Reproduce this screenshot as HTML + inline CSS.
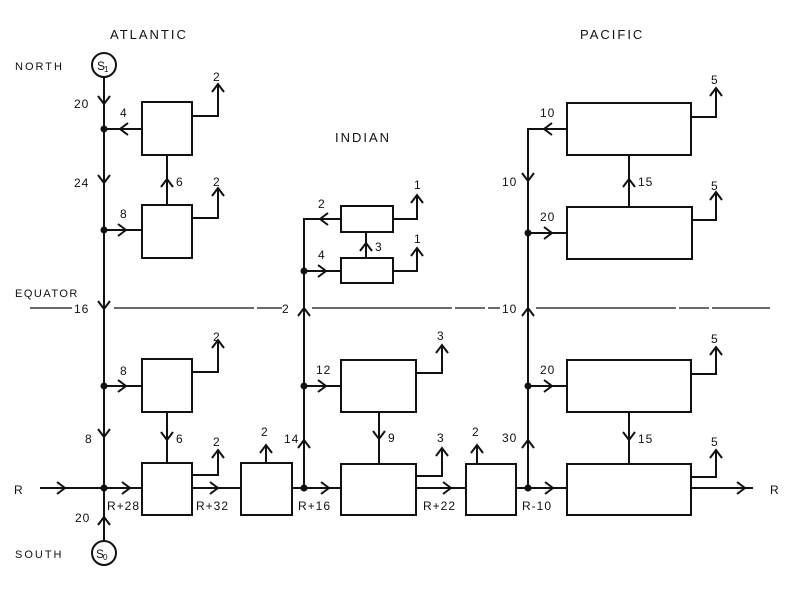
<!DOCTYPE html>
<html><head><style>
html,body{margin:0;padding:0;background:#fff;}
svg{display:block}
text{font-family:"Liberation Sans",sans-serif;font-size:12px;fill:#111;letter-spacing:1px}
</style></head><body>
<svg width="800" height="594" viewBox="0 0 800 594" xmlns="http://www.w3.org/2000/svg">
<g stroke="#111" stroke-width="2" fill="none">
<rect x="142" y="102" width="50" height="53"/>
<rect x="142" y="205" width="50" height="53"/>
<rect x="142" y="359" width="50" height="53"/>
<rect x="142" y="463" width="50" height="52"/>
<rect x="241" y="463" width="51" height="52"/>
<rect x="341" y="206" width="52" height="26"/>
<rect x="341" y="258" width="52" height="25"/>
<rect x="341" y="360" width="75" height="52"/>
<rect x="341" y="464" width="75" height="51"/>
<rect x="466" y="464" width="50" height="51"/>
<rect x="567" y="103" width="124" height="52"/>
<rect x="567" y="207" width="125" height="52"/>
<rect x="567" y="360" width="124" height="52"/>
<rect x="567" y="464" width="124" height="51"/>
<circle cx="104" cy="65" r="12"/>
<circle cx="104" cy="553" r="12"/>
<path d="M104 77 V541"/>
<path d="M304 488 V219 H341"/>
<path d="M528 488 V129 H567"/>
<path d="M104 129 H142 M104 230 H142 M104 386 H142"/>
<path d="M304 271 H341 M304 386 H341"/>
<path d="M528 233 H567 M528 386 H567"/>
<path d="M40 488 H142 M192 488 H241 M292 488 H341 M416 488 H466 M516 488 H567 M691 488 H753"/>
<path d="M167 205 V155 M167 412 V463 M366 258 V232 M379 412 V464 M629 207 V155 M629 412 V464"/>
<path d="M192 116 H218 V84 M192 218 H218 V188 M192 372 H218 V340 M192 475 H218 V450 M266 463 V445"/>
<path d="M393 219 H417 V195 M393 271 H417 V248 M416 373 H442 V345 M416 476 H442 V448 M477 464 V445"/>
<path d="M691 117 H716 V88 M692 220 H716 V192 M691 374 H716 V347 M691 477 H716 V450"/>
<path d="M30 308 H72 M114 308 H282 M312 308 H500 M536 308 H770" stroke-width="1.3" stroke-dasharray="140 3 30 3"/>
<path d="M98 96 L104 104 L110 96 M98 175 L104 183 L110 175 M98 301 L104 309 L110 301 M98 429 L104 437 L110 429 M161 432 L167 440 L173 432 M373 431 L379 439 L385 431 M522 173 L528 181 L534 173 M623 432 L629 440 L635 432"/>
<path d="M98 525 L104 517 L110 525 M161 187 L167 179 L173 187 M212 92 L218 84 L224 92 M212 196 L218 188 L224 196 M212 348 L218 340 L224 348 M212 458 L218 450 L224 458 M260 453 L266 445 L272 453 M298 316 L304 308 L310 316 M298 448 L304 440 L310 448 M360 251 L366 243 L372 251 M411 203 L417 195 L423 203 M411 256 L417 248 L423 256 M436 353 L442 345 L448 353 M436 456 L442 448 L448 456 M471 453 L477 445 L483 453 M522 316 L528 308 L534 316 M522 448 L528 440 L534 448 M623 187 L629 179 L635 187 M710 96 L716 88 L722 96 M710 200 L716 192 L722 200 M710 355 L716 347 L722 355 M710 458 L716 450 L722 458"/>
<path d="M57 482 L65 488 L57 494 M122 482 L130 488 L122 494 M118 224 L126 230 L118 236 M118 380 L126 386 L118 392 M210 482 L218 488 L210 494 M321 482 L329 488 L321 494 M443 482 L451 488 L443 494 M545 482 L553 488 L545 494 M737 482 L745 488 L737 494 M318 265 L326 271 L318 277 M318 380 L326 386 L318 392 M544 227 L552 233 L544 239 M544 380 L552 386 L544 392"/>
<path d="M128 123 L120 129 L128 135 M328 213 L320 219 L328 225 M552 123 L544 129 L552 135"/>
</g>
<g fill="#111">
<circle cx="104" cy="129" r="3.5"/><circle cx="104" cy="230" r="3.5"/><circle cx="104" cy="386" r="3.5"/><circle cx="104" cy="488" r="3.5"/>
<circle cx="304" cy="271" r="3.5"/><circle cx="304" cy="386" r="3.5"/><circle cx="304" cy="488" r="3.5"/>
<circle cx="528" cy="233" r="3.5"/><circle cx="528" cy="386" r="3.5"/><circle cx="528" cy="488" r="3.5"/>
</g>
<text x="110" y="39" style="font-size:13px;letter-spacing:2px">ATLANTIC</text>
<text x="335" y="142" style="font-size:13px;letter-spacing:2px">INDIAN</text>
<text x="580" y="39" style="font-size:13px;letter-spacing:2px">PACIFIC</text>
<text x="15" y="70" style="font-size:11px;letter-spacing:2px">NORTH</text>
<text x="15" y="297" style="font-size:11px;letter-spacing:1.5px">EQUATOR</text>
<text x="15" y="558" style="font-size:11px;letter-spacing:2px">SOUTH</text>
<text x="14" y="494">R</text>
<text x="770" y="494">R</text>
<text x="97" y="70" style="font-size:12px">S</text><text x="104" y="72" style="font-size:8px">1</text>
<text x="96" y="558" style="font-size:12px">S</text><text x="103" y="560" style="font-size:8px">0</text>
<text x="74" y="108">20</text><text x="74" y="187">24</text><text x="74" y="313">16</text><text x="85" y="443">8</text><text x="75" y="522">20</text>
<text x="120" y="117">4</text><text x="120" y="218">8</text><text x="120" y="375">8</text>
<text x="176" y="186">6</text><text x="176" y="443">6</text>
<text x="213" y="81">2</text><text x="213" y="186">2</text><text x="213" y="341">2</text><text x="213" y="446">2</text><text x="261" y="436">2</text>
<text x="107" y="510">R+28</text><text x="196" y="510">R+32</text><text x="298" y="510">R+16</text><text x="423" y="510">R+22</text><text x="522" y="510">R-10</text>
<text x="282" y="313">2</text><text x="284" y="443">14</text>
<text x="318" y="208">2</text><text x="318" y="259">4</text><text x="316" y="374">12</text>
<text x="375" y="251">3</text><text x="388" y="442">9</text>
<text x="414" y="189">1</text><text x="414" y="243">1</text><text x="437" y="340">3</text><text x="437" y="442">3</text><text x="472" y="436">2</text>
<text x="502" y="313">10</text><text x="502" y="186">10</text><text x="502" y="442">30</text>
<text x="540" y="117">10</text><text x="540" y="221">20</text><text x="540" y="374">20</text>
<text x="638" y="186">15</text><text x="638" y="443">15</text>
<text x="711" y="84">5</text><text x="711" y="190">5</text><text x="711" y="343">5</text><text x="711" y="446">5</text>
</svg>
</body></html>
